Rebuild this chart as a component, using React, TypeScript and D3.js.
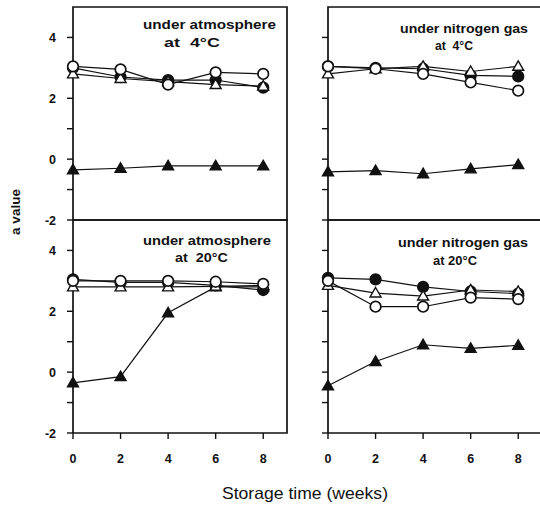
import React from "react";
import * as d3 from "d3";

// storage time in weeks
const weeks = [0, 2, 4, 6, 8];
const yTicks = [-2, -1, 0, 1, 2, 3, 4];
const yLabels = [-2, 0, 2, 4];

// a value per panel
const atm4OpenCircle = [3.05, 2.95, 2.45, 2.85, 2.8];
const atm4FilledCircle = [3.0, 2.7, 2.6, 2.6, 2.35];
const atm4OpenTriangle = [2.8, 2.65, 2.55, 2.45, 2.4];
const atm4FilledTriangle = [-0.35, -0.3, -0.22, -0.22, -0.22];

const n24OpenCircle = [3.05, 2.97, 2.8, 2.52, 2.25];
const n24FilledCircle = [3.05, 3.0, 2.97, 2.75, 2.72];
const n24OpenTriangle = [2.8, 2.97, 3.05, 2.88, 3.05];
const n24FilledTriangle = [-0.42, -0.38, -0.48, -0.32, -0.18];

const atm20OpenCircle = [3.0, 3.0, 3.0, 2.97, 2.9];
const atm20FilledCircle = [3.05, 2.95, 2.95, 2.85, 2.7];
const atm20OpenTriangle = [2.8, 2.8, 2.8, 2.82, 2.85];
const atm20FilledTriangle = [-0.35, -0.15, 1.95, 2.8, 2.8];

const n220OpenCircle = [3.0, 2.15, 2.15, 2.45, 2.4];
const n220FilledCircle = [3.1, 3.05, 2.8, 2.65, 2.58];
const n220OpenTriangle = [2.85, 2.6, 2.5, 2.7, 2.65];
const n220FilledTriangle = [-0.45, 0.35, 0.9, 0.78, 0.88];

type Series = { shape: "circle" | "triangle"; filled: boolean; values: number[] };

const mk = (oc: number[], fc: number[], ot: number[], ft: number[]): Series[] => [
  { shape: "triangle", filled: true, values: ft },
  { shape: "circle", filled: true, values: fc },
  { shape: "triangle", filled: false, values: ot },
  { shape: "circle", filled: false, values: oc },
];

const panels = [
  {
    left: 73, top: 7, labelsY: true, labelsX: false,
    title: [
      { text: "under atmosphere", x: 143, y: 29, w: 133 },
      { text: "at  4°C", x: 164, y: 47, w: 56 },
    ],
    series: mk(atm4OpenCircle, atm4FilledCircle, atm4OpenTriangle, atm4FilledTriangle),
  },
  {
    left: 328, top: 7, labelsY: false, labelsX: false,
    title: [
      { text: "under nitrogen gas", x: 400, y: 33, w: 128 },
      { text: "at  4°C", x: 435, y: 50, w: 38 },
    ],
    series: mk(n24OpenCircle, n24FilledCircle, n24OpenTriangle, n24FilledTriangle),
  },
  {
    left: 73, top: 220, labelsY: true, labelsX: true,
    title: [
      { text: "under atmosphere", x: 143, y: 245, w: 128 },
      { text: "at  20°C", x: 175, y: 262, w: 53 },
    ],
    series: mk(atm20OpenCircle, atm20FilledCircle, atm20OpenTriangle, atm20FilledTriangle),
  },
  {
    left: 328, top: 220, labelsY: false, labelsX: true,
    title: [
      { text: "under nitrogen gas", x: 398, y: 247, w: 130 },
      { text: "at 20°C", x: 433, y: 265, w: 44 },
    ],
    series: mk(n220OpenCircle, n220FilledCircle, n220OpenTriangle, n220FilledTriangle),
  },
];

const W = 214;
const H = 213;
const font = "'Liberation Sans', Arial, sans-serif";

const Panel = ({ p }: { p: (typeof panels)[number] }) => {
  const x = d3.scaleLinear().domain([0, 9]).range([p.left, p.left + W]);
  const y = d3.scaleLinear().domain([-2, 5]).range([p.top + H, p.top]);
  const line = d3
    .line<number>()
    .x((_, i) => x(weeks[i]))
    .y((d) => y(d));
  const tri = d3.symbol().type(d3.symbolTriangle).size(52)();
  return (
    <g>
      <path
        d={`M${x(0)},${y(-2)}V${y(5)}H${x(9)}V${y(-2)}H${x(0)}`}
        fill="none"
        stroke="#111"
        strokeWidth={1.7}
      />
      {yTicks.map((t) => (
        <line key={t} x1={x(0) - 6} x2={x(0)} y1={y(t)} y2={y(t)} stroke="#111" strokeWidth={1.4} />
      ))}
      {p.labelsY &&
        yLabels.map((t) => (
          <text key={t} x={x(0) - 17} y={y(t) + 4.5} textAnchor="end" fontFamily={font} fontWeight="bold" fontSize={12.5} fill="#111">
            {t}
          </text>
        ))}
      {p.labelsX &&
        weeks.map((t) => (
          <g key={t}>
            <line x1={x(t)} x2={x(t)} y1={y(-2)} y2={y(-2) + 6} stroke="#111" strokeWidth={1.4} />
            <text x={x(t)} y={463} textAnchor="middle" fontFamily={font} fontWeight="bold" fontSize={12.5} fill="#111">
              {t}
            </text>
          </g>
        ))}
      {p.title.map((t, i) => (
        <text key={i} x={t.x} y={t.y} fontFamily={font} fontWeight="bold" fontSize={12} textLength={t.w} lengthAdjust="spacingAndGlyphs" fill="#111" style={{ whiteSpace: "pre" }}>
          {t.text}
        </text>
      ))}
      {p.series.map((s, i) => (
        <path key={i} d={line(s.values) || ""} fill="none" stroke="#111" strokeWidth={1.2} />
      ))}
      {p.series.map((s, i) => (
        <g key={i}>
          {s.values.map((v, j) =>
            s.shape === "circle" ? (
              <circle key={j} cx={x(weeks[j])} cy={y(v)} r={5.3} fill={s.filled ? "#111" : "#fff"} stroke="#111" strokeWidth={1.7} />
            ) : (
              <path key={j} d={tri || ""} transform={`translate(${x(weeks[j])},${y(v) + 0.8})`} fill={s.filled ? "#111" : "#fff"} stroke="#111" strokeWidth={1.4} />
            )
          )}
        </g>
      ))}
    </g>
  );
};

export default function App() {
  return (
    <svg width={540} height={505} style={{ position: "absolute", left: 0, top: 0, background: "#fff" }}>
      <rect width={540} height={505} fill="#fff" />
      {panels.map((p, i) => (
        <Panel key={i} p={p} />
      ))}
      <text transform="translate(20,212) rotate(-90)" textAnchor="middle" fontFamily={font} fontWeight="bold" fontSize={13.5} fill="#111">
        a value
      </text>
      <text x={305} y={499} textAnchor="middle" fontFamily={font} fontSize={16.5} textLength={166} lengthAdjust="spacingAndGlyphs" fill="#111">
        Storage time (weeks)
      </text>
    </svg>
  );
}
